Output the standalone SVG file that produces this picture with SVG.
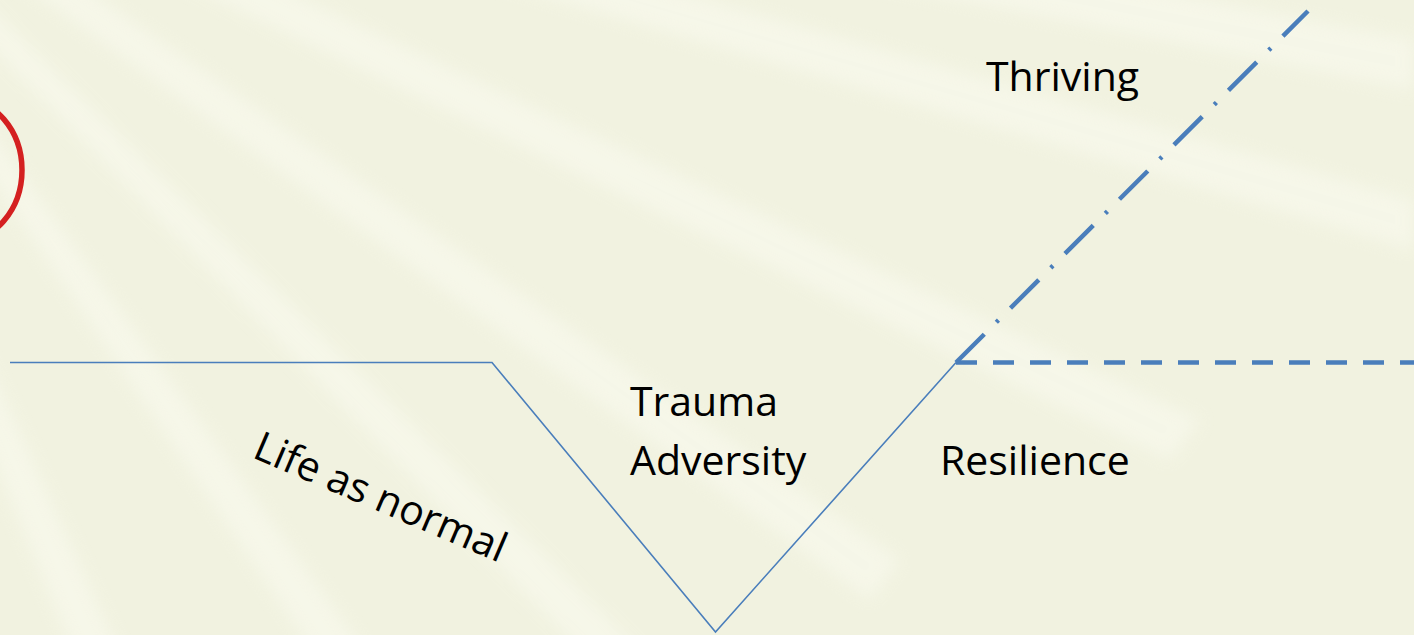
<svg xmlns="http://www.w3.org/2000/svg" width="1414" height="635" viewBox="0 0 1414 635">
  <style>
    .lbl { font-family: "Open Sans", "Liberation Sans", sans-serif; font-size: 41px; fill: #000; }
    .path { fill: none; stroke: #4a7ebb; stroke-width: 1.6; stroke-linejoin: miter; }
    .thick { fill: none; stroke: #4a7ebb; stroke-width: 4.5; }
  </style>
  <defs>
    <filter id="blur" x="-20%" y="-20%" width="140%" height="140%">
      <feGaussianBlur stdDeviation="8"/>
    </filter>
  </defs>
  <g id="background">
    <rect width="1414" height="635" fill="#f1f2e0"/>
    <g fill="#fafbf0" opacity="0.55" filter="url(#blur)">
      <polygon points="-300,-250 -260,-280 1414,40 1414,90"/>
      <polygon points="-300,-250 -265,-275 1414,200 1414,250"/>
      <polygon points="-300,-250 -270,-270 1200,420 1170,460"/>
      <polygon points="-300,-250 -275,-265 900,560 870,600"/>
      <polygon points="-300,-250 -280,-260 650,660 610,680"/>
      <polygon points="-300,-250 -285,-255 400,700 360,720"/>
      <polygon points="-300,-250 -290,-250 150,720 110,740"/>
    </g>
  </g>
  <g id="red-arc">
    <ellipse cx="-40" cy="170" rx="62" ry="72" fill="none" stroke="#d42020" stroke-width="5.5"/>
  </g>
  <g id="connectors">
    <polyline class="path" points="10,362.5 492,362.5 715.5,632 956,362.5"/>
    <line class="thick" x1="956" y1="362.5" x2="1414" y2="362.5" stroke-dasharray="21 16"/>
    <line class="thick" x1="956" y1="362.5" x2="1308" y2="11" stroke-dasharray="40 17 3 17"/>
  </g>
  <g id="label-thriving">
    <text class="lbl" x="986" y="91">Thriving</text>
  </g>
  <g id="label-trauma">
    <text class="lbl" x="630" y="416">Trauma</text>
    <text class="lbl" x="630" y="475">Adversity</text>
  </g>
  <g id="label-resilience">
    <text class="lbl" x="940" y="475">Resilience</text>
  </g>
  <g id="label-life">
    <text class="lbl" transform="translate(251,457) rotate(23.1)">Life as normal</text>
  </g>
</svg>
